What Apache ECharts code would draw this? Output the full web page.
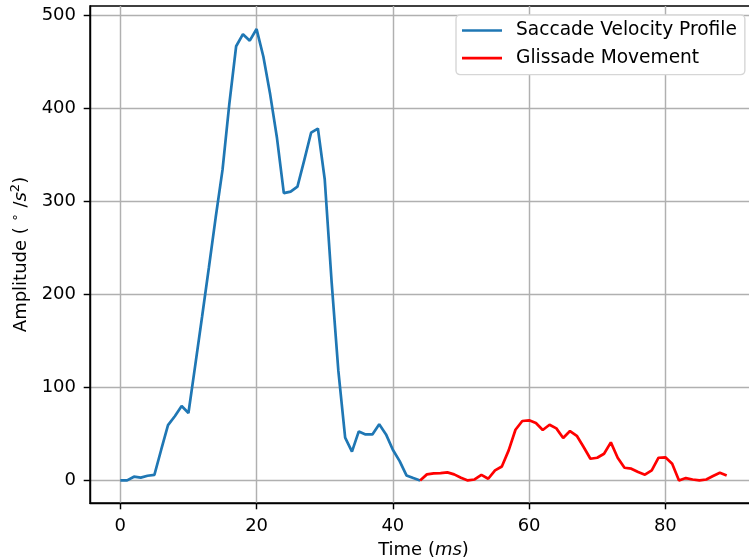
<!DOCTYPE html>
<html lang="en" style="height: 100%">
<head>
  <meta charset="utf-8">
</head>
<body style="height: 100%; margin: 0; background: #fff">
<div id="container" style="width: 749px; height: 558px"></div>
<script type="text/javascript" src="https://cdn.jsdelivr.net/npm/echarts@6.0.0/dist/echarts.min.js"></script>
<script type="text/javascript">
  // time in ms, one sample per ms
  var saccadeTime = [];
  for (var t = 0; t <= 44; t++) saccadeTime.push(t);
  var glissadeTime = [];
  for (var t2 = 44; t2 <= 89; t2++) glissadeTime.push(t2);

  var saccadeValues = [
    0, 0, 4, 3, 5, 6, 33, 59.5, 69, 80,
    72.5, 124, 176, 229, 283, 334, 405, 467, 480, 473,
    485.5, 455.7, 415, 368, 309, 310.7, 316, 344.5, 374, 378.5,
    324, 215, 118, 46, 31, 52.7, 49.5, 49.5, 60.3, 49.5,
    33, 20.8, 5.4, 2.5, 0
  ];
  var glissadeValues = [
    0, 6.5, 7.5, 7.9, 8.6, 6.5, 2.9, 0, 1, 6,
    1.8, 10.8, 15, 32.3, 54.5, 63.9, 64.6, 61.7, 54.2, 59.9,
    56, 45.6, 53.1, 48, 35.9, 23.3, 24.4, 28.7, 40.9, 24.4,
    13.6, 12.6, 9, 6.1, 10.8, 24.4, 24.8, 18, 0, 2.5,
    1, 0, 1, 4.7, 8.3, 5.4
  ];

  var xTicks = [0, 20, 40, 60, 80];
  var yTicks = [0, 100, 200, 300, 400, 500];

  function pairs(xs, ys) {
    return xs.map(function (x, i) { return [x, ys[i]]; });
  }

  var dom = document.getElementById('container');
  var myChart = echarts.init(dom, null, { renderer: 'canvas' });

  var font = 'DejaVu Sans';
  var tickText = { color: '#000', fontFamily: font, fontSize: 18 };

  var option = {
    animation: false,
    backgroundColor: '#fff',
    // the right spine falls just outside the picture, as in the reference
    grid: {
      left: 90, width: 667, top: 6, height: 497,
      outerBoundsMode: 'none',
      containLabel: false,
      show: true, borderColor: '#000', borderWidth: 1.45
    },
    legend: {
      orient: 'vertical',
      left: 456,
      top: 15,
      padding: [5, 8, 6, 6],
      itemWidth: 40,
      itemHeight: 2.7,
      itemGap: 6.6,
      backgroundColor: '#fff',
      borderColor: '#d6d6d6',
      borderWidth: 1.4,
      borderRadius: 4,
      textStyle: { color: '#000', fontFamily: font, fontSize: 18.6, lineHeight: 21, padding: [0, 0, 0, 9] },
      data: [
        { name: 'Saccade Velocity Profile', icon: 'rect', itemStyle: { color: '#1f77b4' } },
        { name: 'Glissade Movement', icon: 'rect', itemStyle: { color: '#ff0000' } }
      ]
    },
    xAxis: {
      type: 'value',
      min: -4.45,
      max: 93.45,
      name: '{n|Time (}{i|ms}{n|)}',
      nameLocation: 'middle',
      nameGap: 38,
      nameTextStyle: {
        rich: {
          n: { color: '#000', fontFamily: font, fontSize: 18 },
          i: { color: '#000', fontFamily: font, fontSize: 18, fontStyle: 'italic' }
        }
      },
      axisLine: { show: true, onZero: false, lineStyle: { color: '#000', width: 1.45 } },
      axisTick: { show: true, length: 6.3, lineStyle: { color: '#000', width: 1.45 }, customValues: xTicks },
      axisLabel: Object.assign({ margin: 14, customValues: xTicks }, tickText),
      splitLine: { show: true, lineStyle: { color: '#b0b0b0', width: 1.45 } }
    },
    yAxis: {
      type: 'value',
      min: -24.3,
      max: 510.3,
      name: '{n|Amplitude ( }{s|∘}{n| /}{i|s}{s|2}{n|)}',
      nameLocation: 'middle',
      nameRotate: 90,
      nameGap: 59,
      nameTextStyle: {
        rich: {
          n: { color: '#000', fontFamily: font, fontSize: 18, lineHeight: 22, verticalAlign: 'bottom' },
          i: { color: '#000', fontFamily: font, fontSize: 18, fontStyle: 'italic', lineHeight: 22, verticalAlign: 'bottom' },
          s: { color: '#000', fontFamily: font, fontSize: 13, lineHeight: 22, verticalAlign: 'top' }
        }
      },
      axisLine: { show: true, onZero: false, lineStyle: { color: '#000', width: 1.45 } },
      axisTick: { show: true, length: 6.3, lineStyle: { color: '#000', width: 1.45 }, customValues: yTicks },
      axisLabel: Object.assign({ margin: 14, customValues: yTicks }, tickText),
      splitLine: { show: true, lineStyle: { color: '#b0b0b0', width: 1.45 } }
    },
    series: [
      {
        name: 'Saccade Velocity Profile',
        type: 'line',
        data: pairs(saccadeTime, saccadeValues),
        showSymbol: false,
        symbol: 'none',
        color: '#1f77b4',
        lineStyle: { color: '#1f77b4', width: 2.7 },
        z: 3
      },
      {
        name: 'Glissade Movement',
        type: 'line',
        data: pairs(glissadeTime, glissadeValues),
        showSymbol: false,
        symbol: 'none',
        color: '#ff0000',
        lineStyle: { color: '#ff0000', width: 2.7 },
        z: 4
      }
    ]
  };

  myChart.setOption(option);
  window.addEventListener('resize', myChart.resize);
</script>
</body>
</html>
